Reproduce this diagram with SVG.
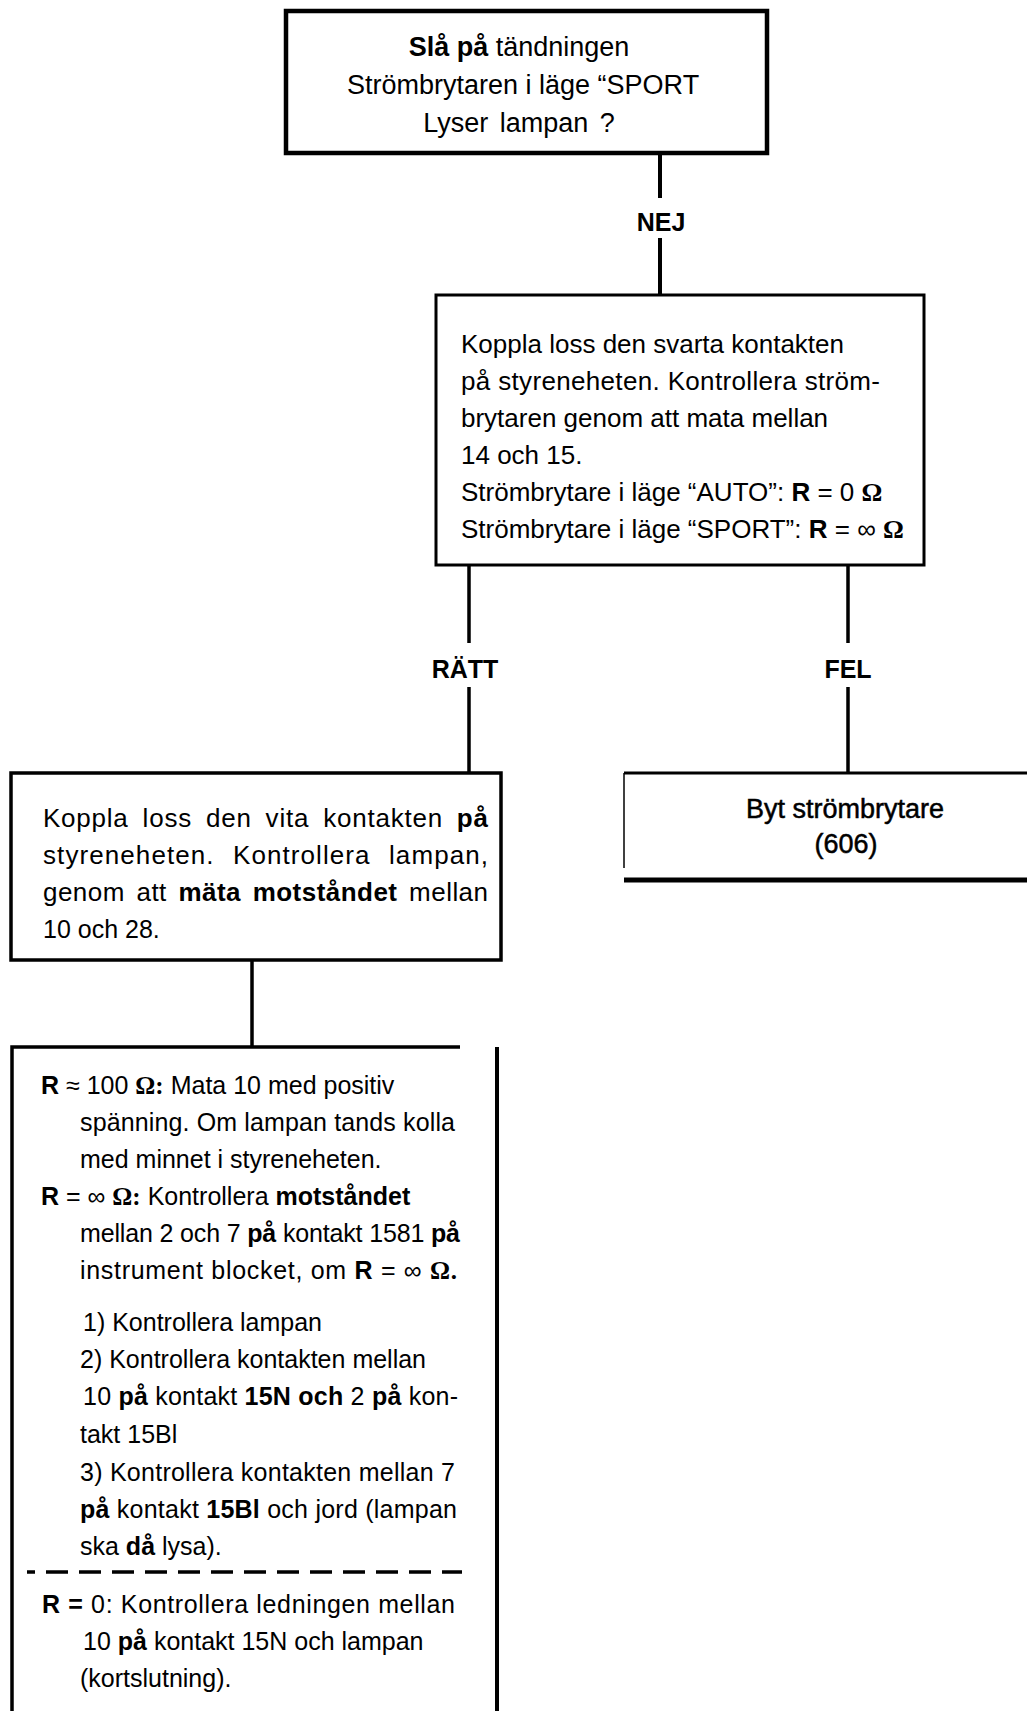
<svg xmlns="http://www.w3.org/2000/svg" width="1027" height="1711" viewBox="0 0 1027 1711">
<style>
text{font-family:"Liberation Sans",Arial,sans-serif;fill:#000}
.s25{font-size:25px}
.s26{font-size:26px}
.s27{font-size:27px}
.b{font-weight:bold}
.om{font-family:"Liberation Serif","Times New Roman",serif;font-weight:bold}
.ln{fill:none;stroke:#000;stroke-linecap:butt}
.lbl{font-size:25px;font-weight:bold;text-anchor:middle}
.med{stroke:#000;stroke-width:0.5}
</style>
<rect width="1027" height="1711" fill="#fff"/>
<g id="connectors">
<path class="ln" stroke-width="4" d="M660 153V198M660 238V295"/>
<path class="ln" stroke-width="3.5" d="M469 565V643M469 687V773"/>
<path class="ln" stroke-width="3.5" d="M848 565V643M848 687V773"/>
<path class="ln" stroke-width="3.5" d="M252 960V1047"/>
<text class="lbl" x="661" y="231">NEJ</text>
<text class="lbl" x="465" y="678">RÄTT</text>
<text class="lbl" x="848" y="678">FEL</text>
</g>
<g id="n1">
<rect class="ln" stroke-width="4.5" x="286" y="11" width="481" height="142"/>
<text class="s27" x="519" y="56" text-anchor="middle"><tspan class="b">Slå på</tspan> tändningen</text>
<text class="s27" x="347" y="94">Strömbrytaren i läge “SPORT</text>
<text class="s27" x="519" y="132" text-anchor="middle" word-spacing="4">Lyser lampan ?</text>
</g>
<g id="n2">
<rect class="ln" stroke-width="3" x="436" y="295" width="488" height="270"/>
<text class="s26" x="461" y="353">Koppla loss den svarta kontakten</text>
<text class="s26" x="461" y="390" textLength="419" lengthAdjust="spacing">på styreneheten. Kontrollera ström-</text>
<text class="s26" x="461" y="427">brytaren genom att mata mellan</text>
<text class="s26" x="461" y="464">14 och 15.</text>
<text class="s26" x="461" y="501">Strömbrytare i läge “AUTO”: <tspan class="b">R</tspan> = 0 <tspan class="om">Ω</tspan></text>
<text class="s26" x="461" y="538">Strömbrytare i läge “SPORT”: <tspan class="b">R</tspan> = ∞ <tspan class="om">Ω</tspan></text>
</g>
<g id="n3">
<rect class="ln" stroke-width="3.5" x="11" y="773" width="490" height="187"/>
<text class="s26" x="43" y="827" word-spacing="6" textLength="445" lengthAdjust="spacing">Koppla loss den vita kontakten <tspan class="b">på</tspan></text>
<text class="s26" x="43" y="864" word-spacing="10" textLength="445" lengthAdjust="spacing">styreneheten. Kontrollera lampan,</text>
<text class="s26" x="43" y="901" word-spacing="4" textLength="445" lengthAdjust="spacing">genom att <tspan class="b">mäta motståndet</tspan> mellan</text>
<text class="s25" x="43" y="938">10 och 28.</text>
</g>
<g id="n4">
<path class="ln" stroke-width="3" d="M624 773H1027"/>
<path class="ln" stroke-width="1.5" d="M624 773V868"/>
<path class="ln" stroke-width="5" d="M624 880H1027"/>
<text class="s27 med" x="845" y="818" text-anchor="middle">Byt strömbrytare</text>
<text class="s27 med" x="846" y="853" text-anchor="middle">(606)</text>
</g>
<g id="n5">
<path class="ln" stroke-width="3.5" d="M12 1711V1047H460"/>
<path class="ln" stroke-width="4" d="M497 1047V1711"/>
<path class="ln" stroke-width="3.5" stroke-dasharray="22 11" stroke-dashoffset="14" d="M27 1572H462"/>
<text class="s25" x="41" y="1094"><tspan class="b">R</tspan> ≈ 100 <tspan class="om">Ω:</tspan> Mata 10 med positiv</text>
<text class="s25" x="80" y="1131" textLength="375" lengthAdjust="spacing">spänning. Om lampan tands kolla</text>
<text class="s25" x="80" y="1168">med minnet i styreneheten.</text>
<text class="s25" x="41" y="1205"><tspan class="b">R</tspan> = ∞ <tspan class="om">Ω:</tspan> Kontrollera <tspan class="b">motståndet</tspan></text>
<text class="s25" x="80" y="1242" textLength="380" lengthAdjust="spacing">mellan 2 och 7 <tspan class="b">på</tspan> kontakt 1581 <tspan class="b">på</tspan></text>
<text class="s25" x="80" y="1279" textLength="377" lengthAdjust="spacing">instrument blocket, om <tspan class="b">R</tspan> = ∞ <tspan class="om">Ω.</tspan></text>
<text class="s25" x="83" y="1331">1) Kontrollera lampan</text>
<text class="s25" x="80" y="1368">2) Kontrollera kontakten mellan</text>
<text class="s25" x="83" y="1405" textLength="375" lengthAdjust="spacing">10 <tspan class="b">på</tspan> kontakt <tspan class="b">15N och</tspan> 2 <tspan class="b">på</tspan> kon-</text>
<text class="s25" x="80" y="1443">takt 15Bl</text>
<text class="s25" x="80" y="1481" textLength="375" lengthAdjust="spacing">3) Kontrollera kontakten mellan 7</text>
<text class="s25" x="80" y="1518" textLength="377" lengthAdjust="spacing"><tspan class="b">på</tspan> kontakt <tspan class="b">15Bl</tspan> och jord (lampan</text>
<text class="s25" x="80" y="1555">ska <tspan class="b">då</tspan> lysa).</text>
<text class="s25" x="42" y="1613" textLength="413" lengthAdjust="spacing"><tspan class="b">R =</tspan> 0: Kontrollera ledningen mellan</text>
<text class="s25" x="83" y="1650">10 <tspan class="b">på</tspan> kontakt 15N och lampan</text>
<text class="s25" x="80" y="1687">(kortslutning).</text>
</g>
</svg>
